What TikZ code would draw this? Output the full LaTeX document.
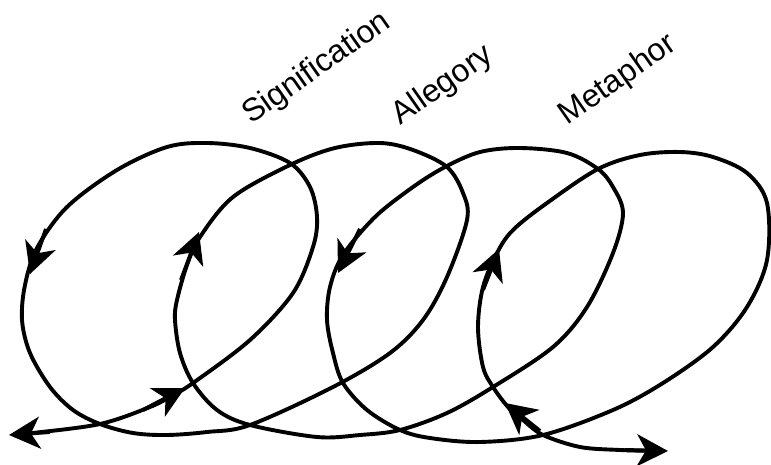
\documentclass[tikz,border=0pt]{standalone}
\usepackage{fontspec}
\setmainfont{Liberation Sans}
\usetikzlibrary{arrows.meta}
\begin{document}
\begin{tikzpicture}[x=1pt,y=-1pt,
  curve/.style={line width=3.9pt, line join=round, line cap=round},
  tipstyle/.style={line width=3.9pt, -{Stealth[length=31pt,width=32pt,inset=9pt]}},
  lbl/.style={font=\fontsize{32}{34}\selectfont, inner sep=0pt, rotate=35}]
\useasboundingbox (0,0) rectangle (771,465);
% the spiral
\draw[curve] plot[smooth, tension=0.55] coordinates {
 (22,434) (33,433) (100,424) (150,407) (173,395) (193,383) (250,340) (293,293)
 (313,247) (317,217) (310,187) (290,163) (250,148) (207,143) (167,147) (117,170)
 (67,207) (37,248) (25,285) (22,320) (30,353) (50,387) (73,410) (100,424)
 (133,433) (167,435) (207,432) (250,425) (333,387) (390,353) (423,320) (447,277)
 (467,220) (463,193) (447,167) (413,150) (380,143) (335,148) (290,165) (233,197)
 (200,237) (187,265) (177,300) (175,320) (180,353) (193,383) (217,410) (250,425)
 (317,437) (360,435) (400,430) (447,413) (493,387) (553,347) (587,307) (613,253)
 (623,213) (613,187) (598,169) (567,153) (520,148) (480,152) (445,167) (413,187)
 (375,217) (343,255) (330,287) (327,320) (333,353) (343,383) (367,410) (400,430)
 (430,438) (480,442) (543,435) (613,410) (663,383) (713,347) (747,307) (767,260)
 (767,203) (747,173) (713,157) (680,152) (640,155) (598,169) (547,203) (513,230)
 (497,253) (483,287) (478,327) (483,367) (493,387) (508,407) (523,420) (543,435)
 (580,447) (620,450) (655,451)};
% end arrows
\coordinate (lf) at (50,432);
\coordinate (lt) at (9,435);
\coordinate (rf) at (625,450);
\coordinate (rt) at (668,451);
\draw[tipstyle] (lf) -- (lt);
\draw[tipstyle] (rf) -- (rt);
% arrows along the curve
\coordinate (a1f) at (143,410); \coordinate (a1t) at (185,388);
\coordinate (a2f) at (46,229);  \coordinate (a2t) at (30,274);
\coordinate (a3f) at (181,280); \coordinate (a3t) at (199,232);
\coordinate (a4f) at (360,229); \coordinate (a4t) at (338,273);
\coordinate (a5f) at (483,290); \coordinate (a5t) at (499,249);
\coordinate (a6f) at (540,431); \coordinate (a6t) at (505,403);
\foreach \f/\t in {a1f/a1t,a2f/a2t,a3f/a3t,a4f/a4t,a5f/a5t,a6f/a6t}
  \draw[tipstyle] (\f) -- (\t);
% labels
\node[lbl, anchor=base west] (sig) at (251,125) {Signification};
\node[lbl, anchor=base west] (all) at (400,126) {Allegory};
\node[lbl, anchor=base west] (met) at (567,126) {Metaphor};
\end{tikzpicture}
\end{document}
